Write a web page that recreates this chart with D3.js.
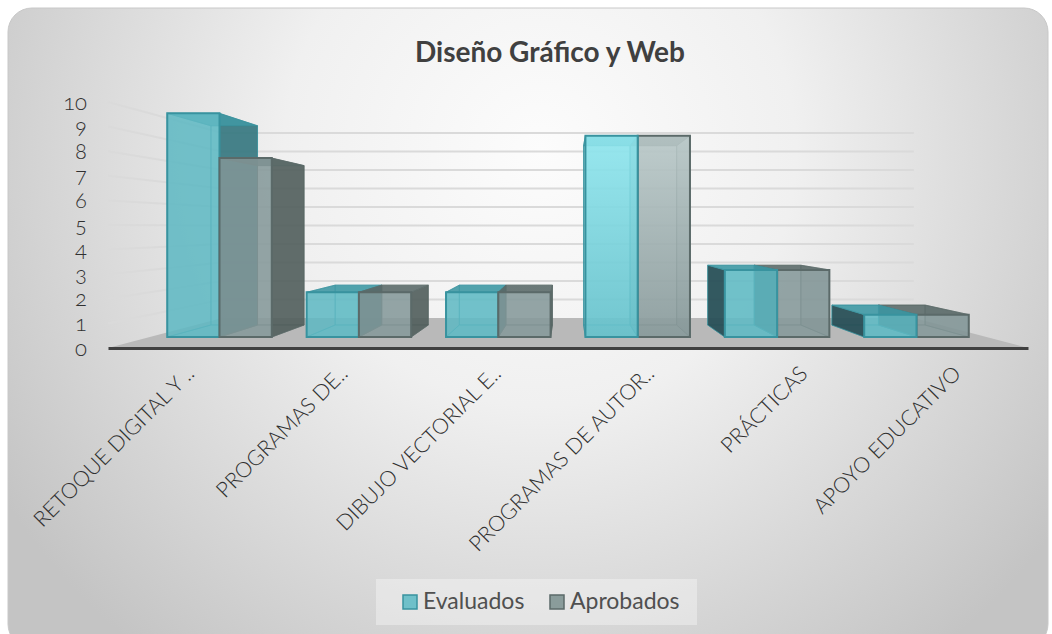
<!DOCTYPE html>
<html>
<head>
<meta charset="utf-8">
<script src="https://cdn.jsdelivr.net/npm/d3@7"></script>
<style>
  html, body { margin: 0; padding: 0; background: #fff; }
  svg { display: block; }
  text { font-family: Lato, "Open Sans", sans-serif; }
</style>
</head>
<body>
<div id="chart"></div>
<script>
const categories = ["RETOQUE DIGITAL Y ..", "PROGRAMAS DE..", "DIBUJO VECTORIAL E..", "PROGRAMAS DE AUTOR..", "PRÁCTICAS", "APOYO EDUCATIVO"];
const evaluados = [10, 2, 2, 9, 3, 1];
const aprobados = [8, 2, 2, 9, 3, 1];
const seriesNames = ["Evaluados", "Aprobados"];
const yTicks = [0, 1, 2, 3, 4, 5, 6, 7, 8, 9, 10];

const width = 1052;
const height = 634;

const svg = d3.select("#chart").append("svg")
  .attr("width", width)
  .attr("height", height);

const defs = svg.append("defs");

// Panel background
const bg = defs.append("radialGradient")
  .attr("id", "panel")
  .attr("gradientUnits", "userSpaceOnUse")
  .attr("cx", 540).attr("cy", 150).attr("r", 640);
bg.append("stop").attr("offset", "0%").attr("stop-color", "#fcfcfc");
bg.append("stop").attr("offset", "40%").attr("stop-color", "#f0f0f0");
bg.append("stop").attr("offset", "100%").attr("stop-color", "#c4c4c4");

svg.append("rect")
  .attr("x", 8).attr("y", 8)
  .attr("width", 1040).attr("height", 640)
  .attr("rx", 24)
  .attr("fill", "url(#panel)")
  .attr("stroke", "#c8c8c8")
  .attr("stroke-width", 1);

svg.append("text")
  .attr("x", 550).attr("y", 62)
  .attr("text-anchor", "middle")
  .attr("font-size", 28)
  .attr("font-weight", 700)
  .attr("fill", "#404040")
  .text("Diseño Gráfico y Web");

// Front-plane scales, everything else gets pulled towards the vanishing point
const x0 = d3.scaleBand().domain(d3.range(categories.length)).range([108, 1028]).paddingInner(0.25).paddingOuter(0.125);
const x1 = d3.scaleBand().domain([0, 1]).range([0, x0.bandwidth()]);
const xCat = d3.scaleBand().domain(categories).range([108, 1028]);
const y = d3.scaleLinear().domain([0, 10]).range([348, 102]);

const vp = [568, 227];
const focal = 3.03;
const depth = { wall: 1, barFront: 0.303, barBack: 0.711 };

function project(px, val, z) {
  const s = focal / (focal + z);
  return [vp[0] + (px - vp[0]) * s, vp[1] + (y(val) - vp[1]) * s];
}
const poly = pts => "M" + pts.map(p => p.join(",")).join("L") + "Z";

// Walls
const gridG = svg.append("g");
gridG.append("path")
  .attr("d", poly([project(108, 0, 0), project(1028, 0, 0), project(1028, 0, 1), project(108, 0, 1)]))
  .attr("fill", "#b9b9b9");

yTicks.filter(d => d > 0).forEach(t => {
  gridG.append("path")
    .attr("d", d3.line()([project(108, t, 0), project(108, t, 1), project(1028, t, 1)]))
    .attr("fill", "none")
    .attr("stroke", "#dadada")
    .attr("stroke-width", 2);
});

const colors = [
  { id: 0, front: "#60bac4", frontOp: 0.8, edge: "#38939f", top: "#3f98a3", outer: "#33727a", outerLeft: "#264a52", inner: "#3ea0ab", back: "#62bcc6" },
  { id: 1, front: "#84999a", frontOp: 0.8, edge: "#5b6a69", top: "#5a6a69", outer: "#4d5a58", outerLeft: "#3f4c4c", inner: "#5c7272", back: "#98a9a8" }
];

[["#93e9f1", "#66c2cc"], ["#bccbcb", "#87999a"]].forEach((pair, i) => {
  const g = defs.append("linearGradient").attr("id", "bright" + i).attr("x1", 0).attr("x2", 0).attr("y1", 0).attr("y2", 1);
  g.append("stop").attr("offset", "0%").attr("stop-color", pair[0]);
  g.append("stop").attr("offset", "100%").attr("stop-color", pair[1]);
});

function drawBox(g, px0, px1, val, c, bright) {
  const zf = depth.barFront, zb = depth.barBack;
  const ftl = project(px0, val, zf), ftr = project(px1, val, zf);
  const fbl = project(px0, 0, zf), fbr = project(px1, 0, zf);
  const btl = project(px0, val, zb), btr = project(px1, val, zb);
  const bbl = project(px0, 0, zb), bbr = project(px1, 0, zb);
  const face = (pts, fill, op) => g.append("path")
    .attr("d", poly(pts))
    .attr("fill", fill)
    .attr("fill-opacity", op)
    .attr("stroke", c.edge)
    .attr("stroke-opacity", 0.6)
    .attr("stroke-width", 1);

  face([btl, btr, bbr, bbl], c.back, 0.45);
  face([fbl, fbr, bbr, bbl], c.back, 0.5);

  // left of the vanishing point we see the right side from outside, and vice versa
  const leftOuter = px0 > vp[0] && val < 5;
  const rightOuter = px1 < vp[0];
  face([ftl, btl, bbl, fbl], leftOuter ? c.outerLeft : c.inner, leftOuter ? 0.9 : 0.3);
  face([ftr, btr, bbr, fbr], rightOuter ? c.outer : c.inner, rightOuter ? 0.85 : 0.4);
  face([ftl, ftr, btr, btl], c.top, 0.85);

  const f = face([ftl, ftr, fbr, fbl], bright ? "url(#bright" + c.id + ")" : c.front, bright ? 0.85 : c.frontOp);
  f.attr("stroke", c.edge).attr("stroke-opacity", 1).attr("stroke-width", 2);
}

const barsG = svg.append("g");
const vals = [evaluados, aprobados];
// paint far boxes first: outward from the sides towards the vanishing point
categories.forEach((_, i) => {
  const left = x0(i);
  const order = (left + x0.bandwidth() / 2 > vp[0]) ? [1, 0] : [0, 1];
  order.forEach(si => {
    drawBox(barsG, left + x1(si), left + x1(si) + x1.bandwidth(), vals[si][i], colors[si], i === 3);
  });
});

// Axes
const yAxis = svg.append("g")
  .attr("transform", "translate(108,0)")
  .call(d3.axisLeft(y).tickValues(yTicks).tickSize(0).tickPadding(21).tickFormat(d3.format("d")));
yAxis.select(".domain").remove();
yAxis.selectAll("text")
  .attr("font-size", 22)
  .attr("font-weight", 300)
  .attr("fill", "#303030")
  .style("font-family", "Lato, sans-serif")
  .style("font-feature-settings", '"onum"');

const xAxis = svg.append("g")
  .attr("transform", "translate(0,348)")
  .call(d3.axisBottom(xCat).tickSize(0).tickPadding(0));
xAxis.select(".domain")
  .attr("stroke", "#404040")
  .attr("stroke-width", 3);
xAxis.selectAll("text")
  .attr("font-size", 21.5)
  .attr("font-weight", 300)
  .attr("fill", "#303030")
  .attr("text-anchor", "end")
  .attr("dy", 0)
  .attr("y", 0)
  .attr("transform", "translate(11,27) rotate(-45)")
  .style("font-family", "Lato, sans-serif");

// Legend
const legend = svg.append("g");
legend.append("rect")
  .attr("x", 376).attr("y", 579).attr("width", 321).attr("height", 46)
  .attr("fill", "#fff").attr("fill-opacity", 0.35);
const legendX = d3.scaleOrdinal().domain(seriesNames).range([403, 550]);
seriesNames.forEach((name, i) => {
  const c = colors[i];
  legend.append("rect")
    .attr("x", legendX(name)).attr("y", 595).attr("width", 14).attr("height", 14)
    .attr("fill", i === 0 ? "#6fc0c9" : "#8a9c9b")
    .attr("stroke", c.edge).attr("stroke-width", 1.5);
  legend.append("text")
    .attr("x", legendX(name) + 20).attr("y", 609)
    .attr("font-size", 23)
    .attr("font-weight", 400)
    .attr("fill", "#505050")
    .text(name);
});
</script>
</body>
</html>
